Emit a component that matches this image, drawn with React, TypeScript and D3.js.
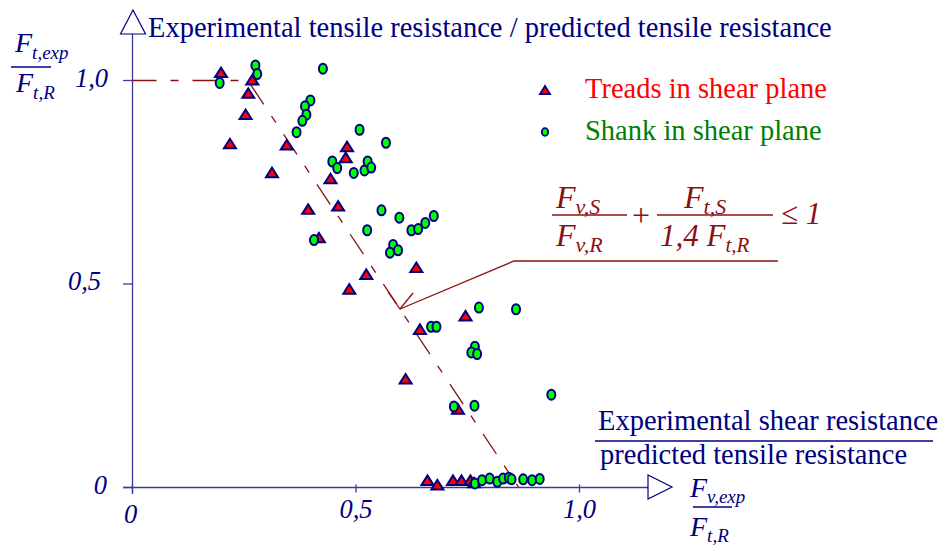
import React from "react";
import * as d3 from "d3";

// Data (x = Fv,exp/Ft,R, y = Ft,exp/Ft,R)
const threadsX = [0.198, 0.268, 0.259, 0.253, 0.218, 0.345, 0.312, 0.443, 0.480, 0.477, 0.393, 0.460, 0.417, 0.635, 0.523, 0.485, 0.745, 0.643, 0.611, 0.728, 0.660, 0.682, 0.717, 0.736, 0.756, 0.764];
const threadsY = [1.020, 1.002, 0.969, 0.917, 0.845, 0.842, 0.774, 0.759, 0.838, 0.811, 0.684, 0.692, 0.614, 0.541, 0.524, 0.488, 0.422, 0.389, 0.267, 0.193, 0.018, 0.007, 0.018, 0.018, 0.018, 0.012];

const shankX = [0.195, 0.275, 0.279, 0.426, 0.398, 0.386, 0.389, 0.380, 0.367, 0.447, 0.458, 0.508, 0.567, 0.495, 0.519, 0.526, 0.534, 0.557, 0.597, 0.624, 0.639, 0.655, 0.674, 0.525, 0.583, 0.576, 0.594, 0.406, 0.775, 0.858, 0.668, 0.680, 0.766, 0.758, 0.771, 0.937, 0.719, 0.765, 0.766, 0.782, 0.799, 0.816, 0.829, 0.842, 0.848, 0.874, 0.894, 0.911];
const shankY = [0.994, 1.037, 1.016, 1.029, 0.951, 0.937, 0.916, 0.901, 0.873, 0.801, 0.785, 0.879, 0.847, 0.773, 0.779, 0.801, 0.786, 0.681, 0.663, 0.632, 0.635, 0.650, 0.667, 0.632, 0.596, 0.577, 0.583, 0.608, 0.442, 0.438, 0.395, 0.395, 0.346, 0.332, 0.328, 0.228, 0.199, 0.201, 0.010, 0.018, 0.022, 0.014, 0.022, 0.024, 0.020, 0.020, 0.018, 0.021];

// Interaction line  Fv/FvR + Ft/(1.4 FtR) <= 1, capped at 1
const limitX = [0, 0.258, 0.864];
const limitY = [1, 1, 0];

const xTicks = [0, 0.5, 1.0];
const xTickLabels = ["0", "0,5", "1,0"];
const yTicks = [0, 0.5, 1.0];
const yTickLabels = ["0", "0,5", "1,0"];

const NAVY = "#000080";
const AXIS = "#3a3a9c";
const DARKRED = "#8b1010";
const SERIF = "'Liberation Serif', 'Times New Roman', serif";

export default function App() {
  const x = d3.scaleLinear().domain([0, 1]).range([132.5, 579.5]);
  const y = d3.scaleLinear().domain([0, 1]).range([487.5, 80.5]);

  const limitPath = d3.line<number>()
    .x((_, i) => x(limitX[i]))
    .y((_, i) => y(limitY[i]))(limitX) || "";

  const tri = (cx: number, cy: number, w: number, h: number) =>
    `M${cx - w / 2},${cy + h / 2}L${cx + w / 2},${cy + h / 2}L${cx},${cy - h / 2}Z`;

  const yLabelRight = [107, 101, 108];

  return (
    <svg width={943} height={545} style={{ position: "absolute", left: 0, top: 0, background: "#fff" }}
      fontFamily={SERIF}>
      <rect width={943} height={545} fill="#fff" />

      {/* axes */}
      <line x1={x(0)} y1={34} x2={x(0)} y2={494} stroke={AXIS} strokeWidth={1.3} />
      <line x1={123} y1={y(0)} x2={648} y2={y(0)} stroke={AXIS} strokeWidth={1.3} />
      <path d={`M120.5,34L145.5,34L133,10Z`} fill="#fff" stroke={NAVY} strokeWidth={1.2} />
      <path d={`M648,475L648,499L672,487Z`} fill="#fff" stroke={NAVY} strokeWidth={1.2} />

      {yTicks.map((t, i) => (
        <g key={"yt" + i}>
          <line x1={123} x2={x(0)} y1={y(t)} y2={y(t)} stroke={AXIS} strokeWidth={1.3} />
          <text x={yLabelRight[i]} y={y(t) + 6} textAnchor="end" fontStyle="italic" fontSize={26.5} fill={NAVY}>{yTickLabels[i]}</text>
        </g>
      ))}
      {xTicks.map((t, i) => (
        <g key={"xt" + i}>
          <line x1={x(t)} x2={x(t)} y1={y(0) - 3} y2={y(0) + 5} stroke={AXIS} strokeWidth={1.3} />
          <text x={x(t) - (i === 0 ? 2 : 0)} y={i === 0 ? 523 : 518} textAnchor="middle" fontStyle="italic" fontSize={26.5} fill={NAVY}>{xTickLabels[i]}</text>
        </g>
      ))}

      {/* title */}
      <text x={148} y={37} fontSize={28.5} fill={NAVY}>Experimental tensile resistance / predicted tensile resistance</text>

      {/* y label fraction */}
      <g fill={NAVY} fontStyle="italic">
        <text x={15} y={52} fontSize={28}>F<tspan fontSize={19} dy={7}>t,exp</tspan></text>
        <line x1={11} x2={51} y1={67} y2={67} stroke={NAVY} strokeWidth={1.5} />
        <text x={16} y={92} fontSize={28}>F<tspan fontSize={19} dy={7}>t,R</tspan></text>
      </g>

      {/* x label */}
      <text x={598} y={430} fontSize={28.5} fill={NAVY}>Experimental shear resistance</text>
      <line x1={595} x2={933} y1={441} y2={441} stroke={NAVY} strokeWidth={1.5} />
      <text x={600} y={464} fontSize={28.5} fill={NAVY}>predicted tensile resistance</text>

      <g fill={NAVY} fontStyle="italic">
        <text x={690} y={497} fontSize={28}>F<tspan fontSize={19} dy={6}>v,exp</tspan></text>
        <line x1={693} x2={732} y1={507} y2={507} stroke={NAVY} strokeWidth={1.5} />
        <text x={690} y={536} fontSize={28}>F<tspan fontSize={19} dy={6}>t,R</tspan></text>
      </g>

      {/* interaction line */}
      <path d={limitPath} fill="none" stroke={DARKRED} strokeWidth={1.3} strokeDasharray="24,14,8,14" />

      {/* annotation pointer */}
      <polyline points="778,261 514,261 400,309" fill="none" stroke={DARKRED} strokeWidth={1.3} />
      <polyline points="388,292 400,309 413,293" fill="none" stroke={DARKRED} strokeWidth={1.3} />

      {/* formula */}
      <g fill={DARKRED} fontStyle="italic">
        <text x={556} y={208} fontSize={32}>F<tspan fontSize={22} dy={6}>v,S</tspan></text>
        <line x1={552} x2={627} y1={215} y2={215} stroke={DARKRED} strokeWidth={1.5} />
        <text x={556} y={246} fontSize={32}>F<tspan fontSize={22} dy={6}>v,R</tspan></text>
        <text x={641} y={226} fontSize={32} fontStyle="normal" textAnchor="middle">+</text>
        <text x={684} y={208} fontSize={32}>F<tspan fontSize={22} dy={6}>t,S</tspan></text>
        <line x1={657} x2={773} y1={215} y2={215} stroke={DARKRED} strokeWidth={1.5} />
        <text x={660} y={246} fontSize={31}>1,4 F<tspan fontSize={21} dy={6}>t,R</tspan></text>
        <text x={781} y={224} fontSize={31}>≤ 1</text>
      </g>

      {/* legend */}
      <path d={tri(545, 90, 10, 8)} fill="#ff0000" stroke={NAVY} strokeWidth={1.8} />
      <text x={585} y={98} fontSize={28.5} fill="#ff0000">Treads in shear plane</text>
      <ellipse cx={545} cy={132} rx={3.2} ry={3.8} fill="#00ff00" stroke={NAVY} strokeWidth={1.8} />
      <text x={585} y={140} fontSize={28.5} fill="#008000">Shank in shear plane</text>

      {/* data */}
      {threadsX.map((v, i) => (
        <path key={"t" + i} d={tri(x(v), y(threadsY[i]), 12, 9.5)} fill="#ff0000" stroke={NAVY} strokeWidth={2} strokeLinejoin="miter" />
      ))}
      {shankX.map((v, i) => (
        <ellipse key={"s" + i} cx={x(v)} cy={y(shankY[i])} rx={4} ry={5} fill="#00ff00" stroke={NAVY} strokeWidth={2} />
      ))}
    </svg>
  );
}
